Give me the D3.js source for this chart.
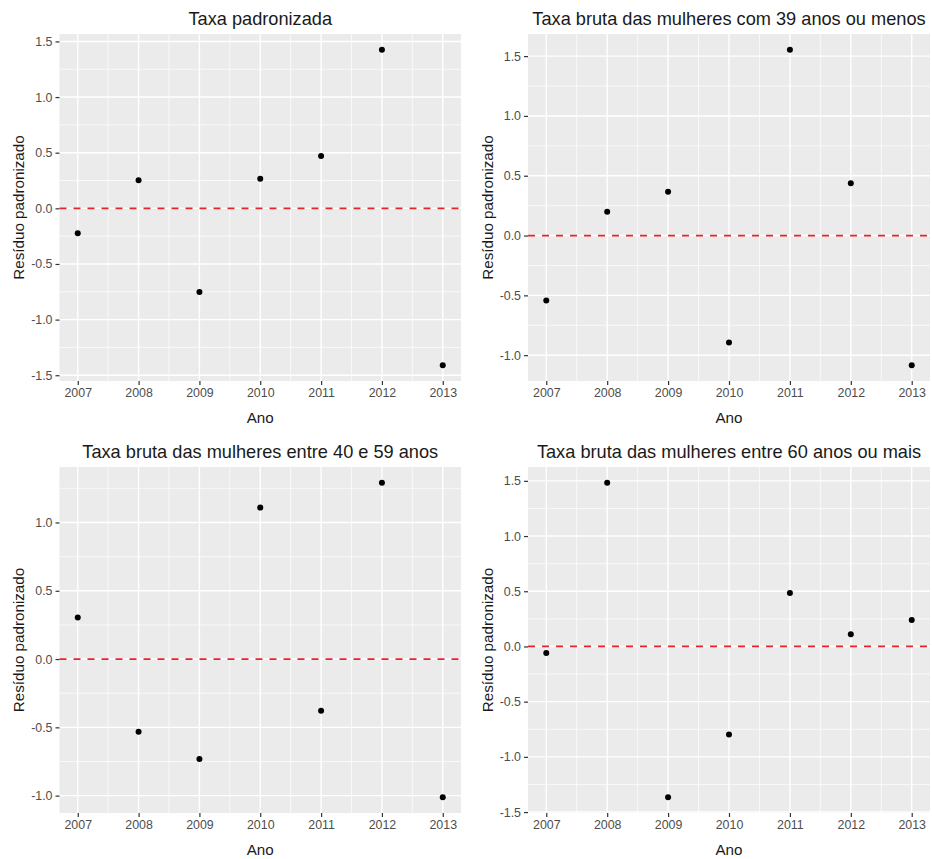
<!DOCTYPE html>
<html>
<head>
<meta charset="utf-8">
<script src="https://cdn.jsdelivr.net/npm/d3@7"></script>
<style>
  html, body { margin: 0; padding: 0; background: #ffffff; }
  svg { display: block; font-family: "Liberation Sans", Arial, sans-serif; }
</style>
</head>
<body>
<svg id="chart" width="932" height="859"></svg>
<script>
// ---- Data ----
const years = [2007, 2008, 2009, 2010, 2011, 2012, 2013];
const titles = [
  "Taxa padronizada",
  "Taxa bruta das mulheres com 39 anos ou menos",
  "Taxa bruta das mulheres entre 40 e 59 anos",
  "Taxa bruta das mulheres entre 60 anos ou mais"
];
const residPadronizada = [-0.224, 0.253, -0.751, 0.265, 0.471, 1.425, -1.41];
const residAte39 = [-0.543, 0.200, 0.366, -0.893, 1.553, 0.438, -1.084];
const resid40a59 = [0.305, -0.533, -0.731, 1.109, -0.378, 1.291, -1.012];
const resid60mais = [-0.060, 1.483, -1.366, -0.797, 0.485, 0.111, 0.240];
const yTicks = [
  [-1.5, -1.0, -0.5, 0.0, 0.5, 1.0, 1.5],
  [-1.0, -0.5, 0.0, 0.5, 1.0, 1.5],
  [-1.0, -0.5, 0.0, 0.5, 1.0],
  [-1.5, -1.0, -0.5, 0.0, 0.5, 1.0, 1.5]
];
const xLabel = "Ano";
const yLabel = "Resíduo padronizado";

// ---- Layout ----
const panels = [
  { x0: 59.5, x1: 461, y0: 34, y1: 381, series: residPadronizada },
  { x0: 528, x1: 930, y0: 34, y1: 381, series: residAte39 },
  { x0: 59.5, x1: 461, y0: 467, y1: 813, series: resid40a59 },
  { x0: 528, x1: 930, y0: 467, y1: 813, series: resid60mais }
];

const svg = d3.select("#chart");

panels.forEach((p, i) => {
  const g = svg.append("g");
  const ext = d3.extent(p.series);
  const padY = (ext[1] - ext[0]) * 0.05;
  const padX = (years[years.length - 1] - years[0]) * 0.05;
  const x = d3.scaleLinear()
    .domain([years[0] - padX, years[years.length - 1] + padX])
    .range([p.x0, p.x1]);
  const y = d3.scaleLinear()
    .domain([ext[0] - padY, ext[1] + padY])
    .range([p.y1, p.y0]);

  // panel background
  g.append("rect")
    .attr("x", p.x0).attr("y", p.y0)
    .attr("width", p.x1 - p.x0).attr("height", p.y1 - p.y0)
    .attr("fill", "#EBEBEB");

  const ticks = yTicks[i];
  const minorY = [];
  for (let k = 0; k < ticks.length - 1; k++) minorY.push((ticks[k] + ticks[k + 1]) / 2);
  const step = 0.5;
  [ticks[0] - step / 2, ticks[ticks.length - 1] + step / 2].forEach(v => {
    if (v > y.domain()[0] && v < y.domain()[1]) minorY.push(v);
  });
  const minorX = [];
  for (let k = 0; k < years.length - 1; k++) minorX.push(years[k] + 0.5);

  g.selectAll(".minorY").data(minorY).enter().append("line")
    .attr("x1", p.x0).attr("x2", p.x1)
    .attr("y1", d => y(d)).attr("y2", d => y(d))
    .attr("stroke", "#ffffff").attr("stroke-width", 0.7);
  g.selectAll(".minorX").data(minorX).enter().append("line")
    .attr("y1", p.y0).attr("y2", p.y1)
    .attr("x1", d => x(d)).attr("x2", d => x(d))
    .attr("stroke", "#ffffff").attr("stroke-width", 0.7);
  g.selectAll(".majorY").data(ticks).enter().append("line")
    .attr("x1", p.x0).attr("x2", p.x1)
    .attr("y1", d => y(d)).attr("y2", d => y(d))
    .attr("stroke", "#ffffff").attr("stroke-width", 1.4);
  g.selectAll(".majorX").data(years).enter().append("line")
    .attr("y1", p.y0).attr("y2", p.y1)
    .attr("x1", d => x(d)).attr("x2", d => x(d))
    .attr("stroke", "#ffffff").attr("stroke-width", 1.4);

  // axes
  const yAxis = d3.axisLeft(y).tickValues(ticks).tickFormat(d3.format(".1f")).tickSize(4).tickPadding(3);
  const ya = g.append("g").attr("transform", `translate(${p.x0},0)`).call(yAxis);
  const xAxis = d3.axisBottom(x).tickValues(years).tickFormat(d3.format("d")).tickSize(4).tickPadding(3);
  const xa = g.append("g").attr("transform", `translate(0,${p.y1})`).call(xAxis);
  [ya, xa].forEach(a => {
    a.select(".domain").remove();
    a.selectAll(".tick line").attr("stroke", "#333333").attr("stroke-width", 1.2);
    a.selectAll(".tick text").attr("fill", "#4D4D4D").style("font-size", "12.4px")
      .style("font-family", "'Liberation Sans', Arial, sans-serif");
  });
  ya.selectAll(".tick text").text(d => d3.format(".1f")(d).replace("−", "-"));

  // zero reference line
  g.append("line")
    .attr("x1", p.x0).attr("x2", p.x1)
    .attr("y1", y(0)).attr("y2", y(0))
    .attr("stroke", "#E3242B").attr("stroke-width", 1.8)
    .attr("stroke-dasharray", "7,7");

  // points
  g.selectAll(".pt").data(years).enter().append("circle")
    .attr("cx", d => x(d))
    .attr("cy", (d, k) => y(p.series[k]))
    .attr("r", 3)
    .attr("fill", "#000000");

  // title
  const cx = (p.x0 + p.x1) / 2;
  g.append("text")
    .attr("x", cx).attr("y", p.y0 - 9)
    .attr("text-anchor", "middle")
    .attr("fill", "#1a1a1a")
    .style("font-size", "18.2px")
    .text(titles[i]);

  // x axis title
  g.append("text")
    .attr("x", cx).attr("y", p.y1 + 42)
    .attr("text-anchor", "middle")
    .attr("fill", "#1a1a1a")
    .style("font-size", "15.2px")
    .text(xLabel);

  // y axis title
  const ty = (p.y0 + p.y1) / 2;
  const tx = p.x0 - 35.5;
  g.append("text")
    .attr("transform", `translate(${tx},${ty}) rotate(-90)`)
    .attr("text-anchor", "middle")
    .attr("fill", "#1a1a1a")
    .style("font-size", "15.2px")
    .text(yLabel);
});
</script>
</body>
</html>
